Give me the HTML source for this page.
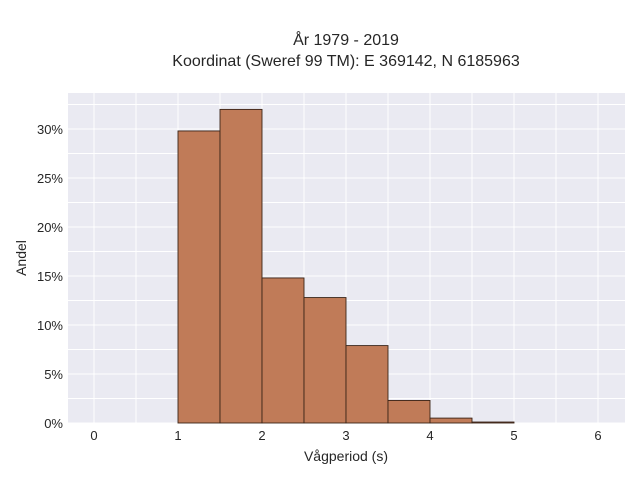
<!DOCTYPE html>
<html><head><meta charset="utf-8"><style>
body{margin:0;background:#fff;font-family:"Liberation Sans",sans-serif;}
svg text{font-family:"Liberation Sans",sans-serif;fill:#262626;}
</style></head><body>
<svg id="chart" width="640" height="480">
<text x="346" y="45" text-anchor="middle" font-size="16">År 1979 - 2019</text>
<text x="346" y="66" text-anchor="middle" font-size="16">Koordinat (Sweref 99 TM): E 369142, N 6185963</text>
<rect x="68" y="93" width="557" height="330" fill="#eaeaf2"/>
<g id="grid"></g><g id="bars"></g><g id="ticks"></g>
<text x="346" y="461" text-anchor="middle" font-size="14">Vågperiod (s)</text>
<text transform="translate(26,258) rotate(-90)" text-anchor="middle" font-size="14">Andel</text>
</svg>
<script>
const binStarts=[1,1.5,2,2.5,3,3.5,4,4.5];
const binShares=[29.8,32.0,14.8,12.8,7.9,2.3,0.5,0.1];
const xTicks=[0,1,2,3,4,5,6];
const yTicks=[0,5,10,15,20,25,30];
const binWidth=0.5;
const NS="http://www.w3.org/2000/svg";
const X=v=>94+v*84, Y=v=>423-v*9.8;
const grid=document.getElementById('grid'),bars=document.getElementById('bars'),ticks=document.getElementById('ticks');
function mk(tag,attrs,parent){const e=document.createElementNS(NS,tag);for(const k in attrs)e.setAttribute(k,attrs[k]);parent.appendChild(e);return e;}
for(let v=-0.5;v<=6.5;v+=0.5){const x=X(v);if(x<68||x>625)continue;
const l=mk('line',{x1:x,x2:x,y1:93,y2:423,stroke:'#fff','stroke-width':1},grid);

}
for(let v=0;v<=32.5;v+=2.5){const y=Y(v);if(y<93)continue;
const l=mk('line',{x1:68,x2:625,y1:y,y2:y,stroke:'#fff','stroke-width':1},grid);

}
binStarts.forEach((s,i)=>{const x0=X(s),x1=X(s+binWidth),y=Y(binShares[i]);
const r=mk('rect',{x:x0,y:y,width:x1-x0,height:423-y,fill:'#c07b58',stroke:'#3a2418','stroke-width':0.9},bars);

});
xTicks.forEach(v=>{const t=mk('text',{x:X(v),y:440,'text-anchor':'middle','font-size':13},ticks);t.textContent=v;

});
yTicks.forEach(v=>{const t=mk('text',{x:63,y:Y(v)+5,'text-anchor':'end','font-size':13},ticks);t.textContent=v+'%';

});
</script>
</body></html>
